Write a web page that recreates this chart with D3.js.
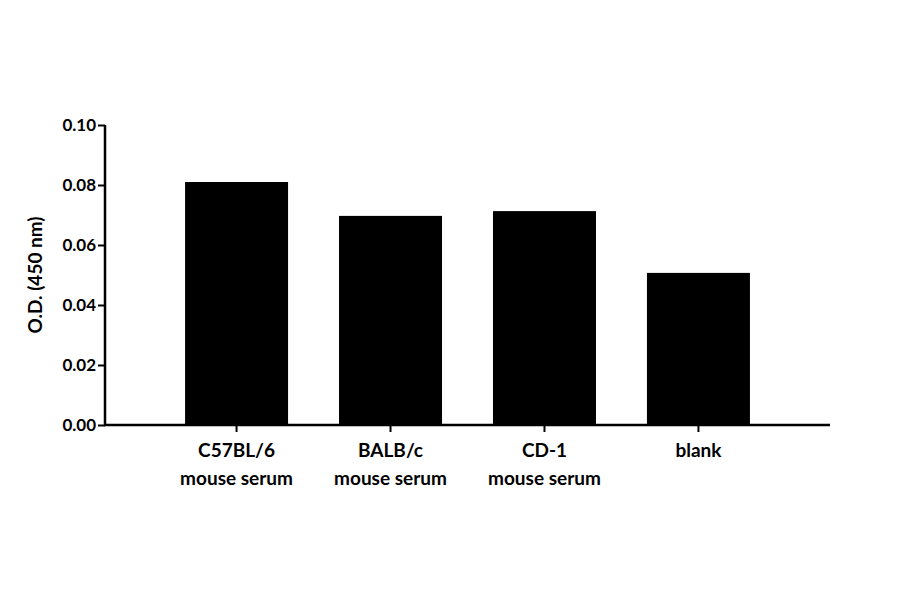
<!DOCTYPE html>
<html><head><meta charset="utf-8">
<script src="https://cdn.jsdelivr.net/npm/d3@7"></script>
<style>body{margin:0;background:#fff}text{font-family:Lato,"Open Sans",sans-serif;font-weight:bold}</style>
</head><body><svg width="900" height="594"></svg>
<script>
var categories = [["C57BL/6","mouse serum"],["BALB/c","mouse serum"],["CD-1","mouse serum"],["blank"]];
var values = [0.081, 0.0697, 0.0713, 0.0507];
var yTicks = [0, 0.02, 0.04, 0.06, 0.08, 0.10];

var svg = d3.select('svg');
var x = d3.scaleBand().domain(d3.range(categories.length)).range([105, 830]).paddingInner(0.331).paddingOuter(0.52);
var y = d3.scaleLinear().domain([0, 0.1]).range([425, 125]);

svg.selectAll('.bar').data(values).enter().append('rect')
  .attr('x', function(d,i){return x(i);})
  .attr('y', function(d){return y(d);})
  .attr('width', x.bandwidth())
  .attr('height', function(d){return y(0) - y(d);})
  .attr('fill', '#000');

var ya = svg.append('g').attr('transform','translate(105,0)')
  .call(d3.axisLeft(y).tickValues(yTicks).tickFormat(d3.format('.2f')).tickSize(7).tickPadding(2));
ya.select('.domain').attr('stroke-width', 2.5).attr('d', 'M0,425V125');
ya.selectAll('.tick line').attr('stroke-width', 2);
ya.selectAll('text').style('font-size','17px').attr('fill','#000');

svg.append('line').attr('x1',104).attr('x2',830).attr('y1',425).attr('y2',425).attr('stroke','#000').attr('stroke-width',2.5);
svg.selectAll('.xt').data(values).enter().append('line')
  .attr('x1',function(d,i){return x(i)+x.bandwidth()/2;}).attr('x2',function(d,i){return x(i)+x.bandwidth()/2;})
  .attr('y1',425).attr('y2',432).attr('stroke','#000').attr('stroke-width',2);

categories.forEach(function(c,i){
  var t = svg.append('text').attr('x', x(i)+x.bandwidth()/2).attr('y', 457)
    .attr('text-anchor','middle').style('font-size','19px');
  c.forEach(function(s,j){ t.append('tspan').attr('x', x(i)+x.bandwidth()/2).attr('dy', j ? 28 : 0).text(s); });
});

svg.append('text').attr('transform','translate(42,275) rotate(-90)').attr('text-anchor','middle')
  .style('font-size','19px').text('O.D. (450 nm)');
</script></body></html>
